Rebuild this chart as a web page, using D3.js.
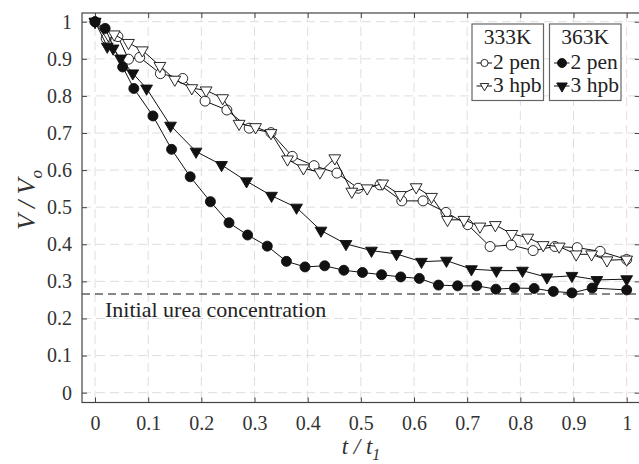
<!DOCTYPE html>
<html>
<head>
<meta charset="utf-8">
<script src="https://cdn.jsdelivr.net/npm/d3@7"></script>
<style>
    body { margin: 0; background: #fff; }
    svg text { font-family: "Liberation Serif", "Tinos", "Nimbus Roman", "Times New Roman", "DejaVu Serif", serif; }
</style>
</head>
<body>
<svg id="svg"></svg>
<script>
// 333K, 2 pen (open circles)
const t333pen = [0, 0.021, 0.043, 0.063, 0.084, 0.123, 0.165, 0.207, 0.248, 0.290, 0.331, 0.371, 0.412, 0.455,
    0.495, 0.536, 0.577, 0.617, 0.660, 0.701, 0.743, 0.783, 0.824, 0.865, 0.907, 0.950, 1.0];
const v333pen = [1.0, 0.955, 0.960, 0.899, 0.904, 0.860, 0.847, 0.786, 0.762, 0.713, 0.701, 0.637, 0.612, 0.592,
    0.551, 0.560, 0.517, 0.517, 0.486, 0.453, 0.394, 0.398, 0.383, 0.394, 0.391, 0.381, 0.359];

// 333K, 3 hpb (open triangles)
const t333hpb = [0, 0.025, 0.036, 0.063, 0.089, 0.122, 0.150, 0.182, 0.209, 0.240, 0.271, 0.302, 0.331, 0.362,
    0.392, 0.423, 0.451, 0.483, 0.512, 0.541, 0.574, 0.604, 0.633, 0.663, 0.694, 0.724, 0.753, 0.784, 0.814,
    0.843, 0.873, 0.905, 0.934, 0.963, 1.0];
const v333hpb = [1.0, 0.964, 0.966, 0.943, 0.923, 0.881, 0.844, 0.821, 0.815, 0.794, 0.725, 0.716, 0.700, 0.629,
    0.605, 0.594, 0.632, 0.542, 0.551, 0.564, 0.533, 0.554, 0.528, 0.466, 0.466, 0.448, 0.452, 0.428, 0.418,
    0.398, 0.394, 0.373, 0.373, 0.357, 0.359];

// 363K, 2 pen (filled circles)
const t363pen = [0, 0.019, 0.052, 0.073, 0.109, 0.144, 0.179, 0.217, 0.252, 0.287, 0.324, 0.360, 0.395, 0.432,
    0.468, 0.503, 0.539, 0.575, 0.610, 0.646, 0.682, 0.718, 0.754, 0.789, 0.826, 0.862, 0.897, 0.935, 1.0];
const v363pen = [1.0, 0.982, 0.878, 0.820, 0.746, 0.656, 0.582, 0.515, 0.458, 0.425, 0.395, 0.354, 0.339, 0.342,
    0.330, 0.324, 0.318, 0.312, 0.308, 0.290, 0.288, 0.288, 0.279, 0.282, 0.281, 0.273, 0.269, 0.282, 0.277];

// 363K, 3 hpb (filled triangles)
const t363hpb = [0, 0.023, 0.034, 0.048, 0.071, 0.097, 0.142, 0.190, 0.238, 0.285, 0.332, 0.379, 0.425, 0.472,
    0.520, 0.567, 0.614, 0.661, 0.708, 0.755, 0.804, 0.850, 0.897, 0.944, 1.0];
const v363hpb = [1.0, 0.933, 0.928, 0.901, 0.861, 0.820, 0.720, 0.650, 0.614, 0.570, 0.531, 0.499, 0.437, 0.401,
    0.383, 0.374, 0.353, 0.356, 0.333, 0.329, 0.329, 0.311, 0.315, 0.304, 0.306];

const ureaLevel = 0.266;
const xTicks = [0, 0.1, 0.2, 0.3, 0.4, 0.5, 0.6, 0.7, 0.8, 0.9, 1];
const yTicks = [0, 0.1, 0.2, 0.3, 0.4, 0.5, 0.6, 0.7, 0.8, 0.9, 1];

const width = 639;
const height = 464;
const axisColor = "#444";

let svg = d3.select("#svg").attr("width", width).attr("height", height);

let xScale = d3.scaleLinear().domain([-0.0245, 1.0245]).range([82, 639.7]);
let yScale = d3.scaleLinear().domain([-0.0265, 1.0235]).range([402.5, 13]);

const series = [
    { t: t333pen, v: v333pen, shape: "circle", fill: "#fff" },
    { t: t333hpb, v: v333hpb, shape: "triangle", fill: "#fff" },
    { t: t363hpb, v: v363hpb, shape: "triangle", fill: "#111" },
    { t: t363pen, v: v363pen, shape: "circle", fill: "#111" }
];

function drawGrid() {
    let grid = svg.append("g").attr("class", "grid")
        .attr("stroke", "#dedede")
        .attr("stroke-width", 1)
        .attr("stroke-dasharray", "9,5");
    grid.selectAll(".vgrid")
        .data(xTicks)
        .enter()
        .append("line")
            .attr("x1", d => xScale(d)).attr("x2", d => xScale(d))
            .attr("y1", yScale.range()[1]).attr("y2", yScale.range()[0]);
    grid.selectAll(".hgrid")
        .data(yTicks)
        .enter()
        .append("line")
            .attr("y1", d => yScale(d)).attr("y2", d => yScale(d))
            .attr("x1", xScale.range()[0]).attr("x2", xScale.range()[1]);
}

function drawAxes() {
    let [x0, x1] = xScale.range();
    let [y0, y1] = yScale.range();
    let fmt = d => d3.format("")(d);

    svg.append("g")
        .attr("transform", `translate(0,${y0})`)
        .call(d3.axisBottom(xScale).tickValues(xTicks).tickFormat(fmt).tickSize(-5).tickPadding(13));
    svg.append("g")
        .attr("transform", `translate(0,${y1})`)
        .call(d3.axisTop(xScale).tickValues(xTicks).tickFormat("").tickSize(-5));
    svg.append("g")
        .attr("transform", `translate(${x0},0)`)
        .call(d3.axisLeft(yScale).tickValues(yTicks).tickFormat(fmt).tickSize(-5).tickPadding(10));
    svg.append("g")
        .attr("transform", `translate(${x1},0)`)
        .call(d3.axisRight(yScale).tickValues(yTicks).tickFormat("").tickSize(-5));

    svg.selectAll(".domain").remove();
    svg.selectAll(".tick line").attr("stroke", axisColor);
    svg.selectAll(".tick text")
        .attr("fill", "#333")
        .style("font-size", "20px");

    svg.append("rect")
        .attr("x", x0).attr("y", y1)
        .attr("width", x1 - x0).attr("height", y0 - y1)
        .attr("fill", "none")
        .attr("stroke", axisColor)
        .attr("stroke-width", 1.2);
}

function drawUreaLine() {
    svg.append("line")
        .attr("x1", xScale.range()[0]).attr("x2", xScale.range()[1])
        .attr("y1", yScale(ureaLevel)).attr("y2", yScale(ureaLevel))
        .attr("stroke", "#111")
        .attr("stroke-width", 1.2)
        .attr("stroke-dasharray", "8,5");
    svg.append("text")
        .attr("x", xScale(0) + 10)
        .attr("y", yScale(ureaLevel) + 23)
        .attr("fill", "#222")
        .style("font-size", "22px")
        .text("Initial urea concentration");
}

function marker(sel, shape, fill, scale) {
    if (shape === "circle") {
        sel.append("circle")
            .attr("r", 5 * scale)
            .attr("fill", fill)
            .attr("stroke", "#111")
            .attr("stroke-width", 0.9);
    } else {
        sel.append("path")
            .attr("d", d3.symbol(d3.symbolTriangle, 60 * scale * scale)())
            .attr("transform", "rotate(180)")
            .attr("fill", fill)
            .attr("stroke", "#111")
            .attr("stroke-width", 0.9);
    }
}

function drawSeries() {
    let line = d3.line()
        .x(d => xScale(d[0]))
        .y(d => yScale(d[1]));

    for (let s of series) {
        let pts = s.t.map((t, i) => [t, s.v[i]]);
        svg.append("path")
            .datum(pts)
            .attr("d", line)
            .attr("fill", "none")
            .attr("stroke", "#111")
            .attr("stroke-width", 1);
        svg.append("g")
            .selectAll("g")
            .data(pts)
            .enter()
            .append("g")
                .attr("transform", d => `translate(${xScale(d[0])},${yScale(d[1])})`)
                .each(function () { marker(d3.select(this), s.shape, s.fill, 1); });
    }
}

function drawLegend() {
    const boxes = [
        { x: 472, title: "333K", fill: "#fff", small: 0.72 },
        { x: 549.5, title: "363K", fill: "#111", small: 0.9 }
    ];
    const items = [
        { label: "2 pen", shape: "circle", y: 63 },
        { label: "3 hpb", shape: "triangle", y: 86 }
    ];
    for (let b of boxes) {
        let g = svg.append("g").attr("transform", `translate(${b.x},24)`);
        g.append("rect")
            .attr("width", 71.5).attr("height", 76.5)
            .attr("fill", "#fff")
            .attr("stroke", "#666")
            .attr("stroke-width", 1.2);
        g.append("text")
            .attr("x", 35.75).attr("y", 19.5)
            .attr("text-anchor", "middle")
            .attr("fill", "#222")
            .style("font-size", "21.5px")
            .text(b.title);
        for (let it of items) {
            let yy = it.y - 24;
            g.append("line")
                .attr("x1", 4.5).attr("x2", 20)
                .attr("y1", yy).attr("y2", yy)
                .attr("stroke", "#111");
            let m = g.append("g").attr("transform", `translate(12.5,${yy})`);
            marker(m, it.shape, b.fill, b.small);
            g.append("text")
                .attr("x", 21).attr("y", yy + 6)
                .attr("fill", "#222")
                .style("font-size", "21.5px")
                .text(it.label);
        }
    }
}

function drawLabels() {
    let xl = svg.append("text")
        .attr("x", 361).attr("y", 454)
        .attr("text-anchor", "middle")
        .attr("fill", "#333")
        .style("font-style", "italic")
        .style("font-size", "23px");
    xl.append("tspan").text("t / t");
    xl.append("tspan").attr("dy", 6).style("font-size", "16px").text("1");

    let yl = svg.append("text")
        .attr("transform", "translate(35,200) rotate(-90)")
        .attr("text-anchor", "middle")
        .attr("fill", "#333")
        .style("font-style", "italic")
        .style("font-size", "26px");
    yl.append("tspan").text("V / V");
    yl.append("tspan").attr("dy", 7).style("font-size", "17px").text("o");
}

drawGrid();
drawUreaLine();
drawAxes();
drawSeries();
drawLegend();
drawLabels();
</script>
</body>
</html>
